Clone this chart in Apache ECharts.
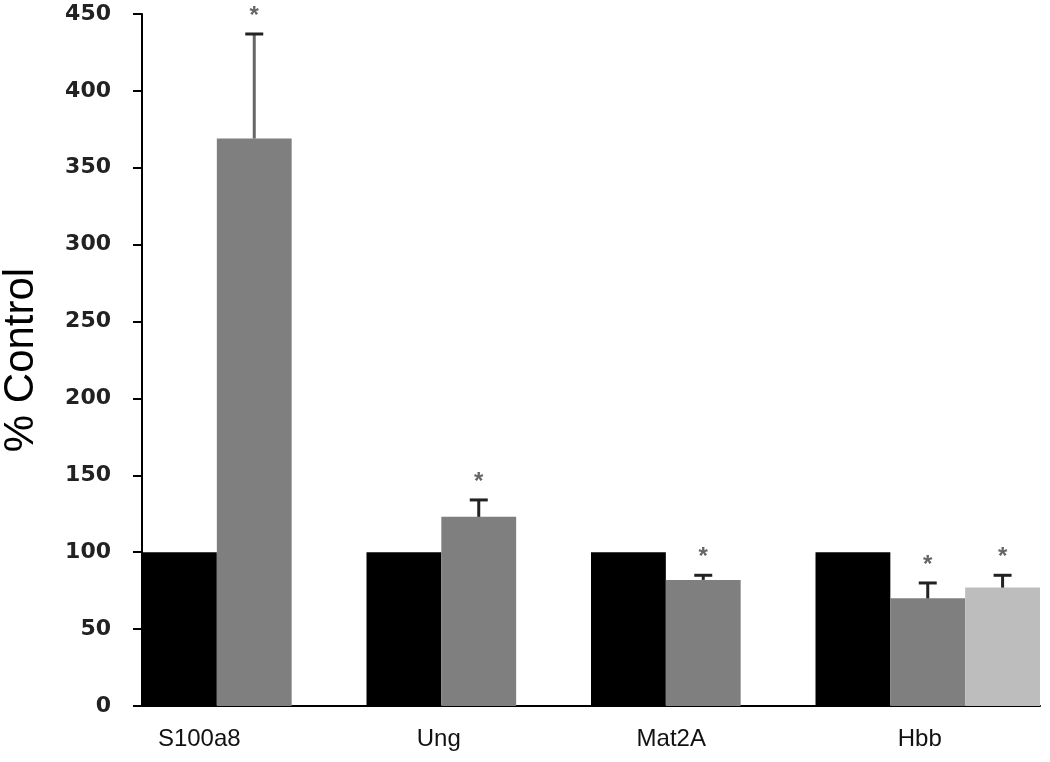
<!DOCTYPE html>
<html>
<head>
<meta charset="utf-8">
<script src="https://cdn.jsdelivr.net/npm/echarts@6/dist/echarts.min.js"></script>
<style>
  html, body { margin: 0; padding: 0; background: #fff; }
  #container { width: 1050px; height: 762px; }
</style>
</head>
<body>
<div id="container"></div>
<script>
// genes on the x axis
const categories = ['S100a8', 'Ung', 'Mat2A', 'Hbb']
// % of control
const control = [100, 100, 100, 100]
const treatedA = [369, 123, 82, 70]
const treatedAErr = [68, 11, 3, 10]
const treatedB = [null, null, null, 77]
const treatedBErr = [null, null, null, 8]
// significance marks
const sigA = ['*', '*', '*', '*']
const sigB = [null, null, null, '*']
const yTicks = [0, 50, 100, 150, 200, 250, 300, 350, 400, 450]

// error bar + asterisk, slot = which bar in the group (0,1,2)
function errorSeries (values, errs, sig, slot) {
  const data = []
  for (let i = 0; i < values.length; i++) {
    if (values[i] != null) data.push([i, values[i], errs[i], sig[i] || ''])
  }
  return {
    type: 'custom',
    silent: true,
    z: 5,
    data: data,
    renderItem: function (params, api) {
      const idx = api.value(0)
      const base = api.coord([idx, api.value(1)])
      const top = api.coord([idx, api.value(1) + api.value(2)])
      const band = api.size([1, 0])[0]
      const x = base[0] + (slot - 1) * band / 3
      const capHalf = 9
      // the big S100a8 error bar is drawn in grey in the original
      const stroke = api.value(2) > 30 ? '#666' : '#222'
      return {
        type: 'group',
        children: [
          { type: 'line', shape: { x1: x, y1: base[1], x2: x, y2: top[1] },
            style: { stroke: stroke, lineWidth: 3 } },
          { type: 'line', shape: { x1: x - capHalf, y1: top[1], x2: x + capHalf, y2: top[1] },
            style: { stroke: '#222', lineWidth: 3 } },
          { type: 'text', x: x, y: top[1] - 18,
            style: { text: api.value(3), fill: '#666', font: 'bold 24px "Liberation Sans"',
              textAlign: 'center', textVerticalAlign: 'middle' } }
        ]
      }
    }
  }
}

// labels in the original sit a bit left of the group centre
const labelPad = [110, 80, 64, 16]

const option = {
  animation: false,
  backgroundColor: '#ffffff',
  grid: { left: 142, right: 10, top: 14, bottom: 56, outerBoundsMode: 'none', containLabel: false },
  xAxis: {
    type: 'category',
    data: categories.map((c, i) => ({ value: c, textStyle: { padding: [0, labelPad[i], 0, 0] } })),
    axisTick: { show: false },
    axisLine: { lineStyle: { color: '#000', width: 2 } },
    axisLabel: {
      color: '#111',
      fontFamily: '"Liberation Sans", Arial, sans-serif',
      fontSize: 24,
      margin: 21
    }
  },
  yAxis: {
    type: 'value',
    min: yTicks[0],
    max: yTicks[yTicks.length - 1],
    interval: 50,
    name: '% Control',
    nameLocation: 'middle',
    nameGap: 100,
    nameTextStyle: { color: '#000', fontSize: 42, fontFamily: '"Liberation Sans", Arial, sans-serif' },
    splitLine: { show: false },
    axisLine: { show: true, lineStyle: { color: '#000', width: 2 } },
    axisTick: { show: true, length: 9, lineStyle: { color: '#000', width: 2 } },
    axisLabel: {
      color: '#222',
      fontFamily: '"DejaVu Sans", sans-serif',
      fontWeight: 'bold',
      fontSize: 22,
      margin: 31
    }
  },
  series: [
    {
      name: 'control', type: 'bar', data: control,
      barGap: '0%', barCategoryGap: '0%',
      itemStyle: { color: '#000000' }
    },
    {
      name: 'treatedA', type: 'bar', data: treatedA,
      barGap: '0%', barCategoryGap: '0%',
      itemStyle: { color: '#7f7f7f' }
    },
    {
      name: 'treatedB', type: 'bar', data: treatedB,
      barGap: '0%', barCategoryGap: '0%',
      itemStyle: { color: '#bdbdbd' }
    },
    errorSeries(treatedA, treatedAErr, sigA, 1),
    errorSeries(treatedB, treatedBErr, sigB, 2)
  ]
}

const myChart = echarts.init(document.getElementById('container'))
myChart.setOption(option)
</script>
</body>
</html>
